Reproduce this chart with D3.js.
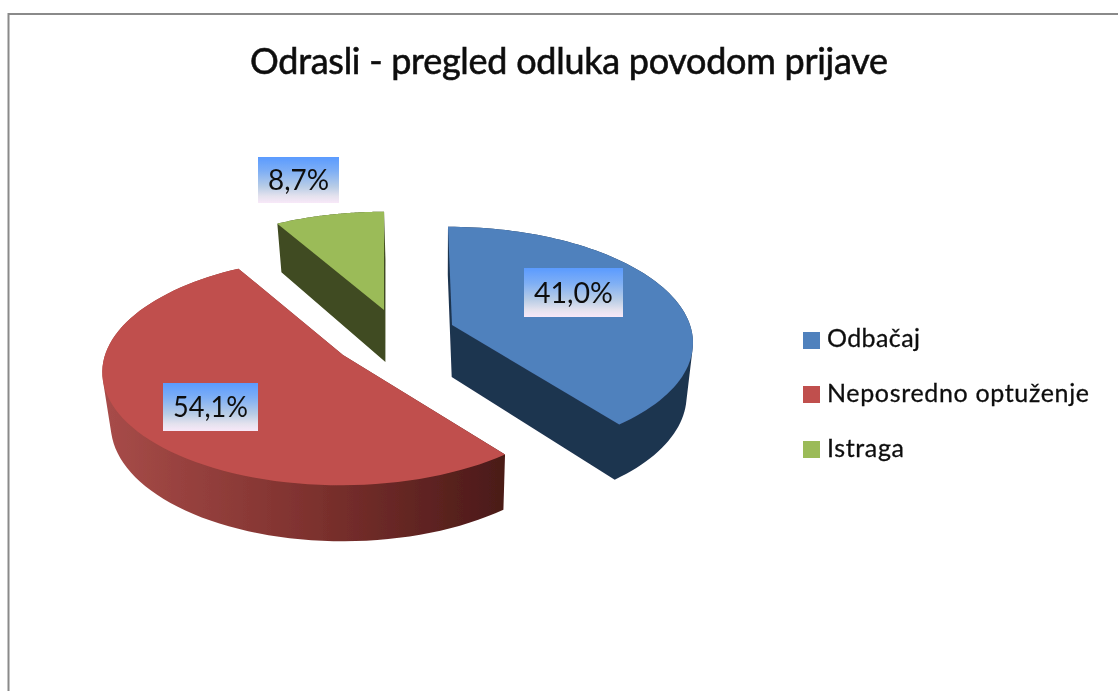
<!DOCTYPE html>
<html><head><meta charset="utf-8">
<script src="https://cdn.jsdelivr.net/npm/d3@7"></script>
<style>html,body{margin:0;padding:0;background:#fff}svg{display:block}text{font-family:Lato,"Noto Sans",sans-serif;fill:#111}</style>
</head><body>
<svg id="c" width="1118" height="691"></svg>
<script>
const categories = ["Odbačaj", "Neposredno optuženje", "Istraga"];
const values = [41.0, 54.1, 8.7];
const valueLabels = ["41,0%", "54,1%", "8,7%"];
const titleText = "Odrasli - pregled odluka povodom prijave";
const topColors = ["#4f81bd", "#c0504d", "#9bbb59"];
const wallColors = ["#1f3450", "url(#redWall)", "#404b21"];

// layout only
const centers = [[452, 325], [343, 355], [384, 310]];
const labelBoxes = [[524, 268, 99, 49], [163, 383, 95, 48], [258, 157, 81, 46]];
const legendRows = [[332, 347], [386, 402], [441, 457]];
const legendWidths = [93, 262, 77];
const R = 238, Ry = 112, persp = 0.14, vanishX = 385, lean = 0.06, bottomShrink = 0.975, bottomAnchor = 440;

const svg = d3.select("#c");
const defs = svg.append("defs");
const blur = defs.append("filter").attr("id", "soft").attr("x", "-5%").attr("y", "-5%").attr("width", "110%").attr("height", "110%");
blur.append("feGaussianBlur").attr("stdDeviation", 0.6);
const g1 = defs.append("linearGradient").attr("id", "redWall").attr("gradientUnits", "userSpaceOnUse")
  .attr("x1", 102).attr("x2", 506).attr("y1", 0).attr("y2", 0);
[[0, "#a84c49"], [0.5, "#7f322f"], [1, "#4a1a18"]].forEach(s => g1.append("stop").attr("offset", s[0]).attr("stop-color", s[1]));
const g2 = defs.append("linearGradient").attr("id", "lab").attr("x1", 0).attr("x2", 0).attr("y1", 0).attr("y2", 1);
[[0, "#5b9bff"], [0.3, "#7daef5"], [0.65, "#b9cde6"], [0.85, "#e4e2ee"], [1, "#f8e8f8"]].forEach(s => g2.append("stop").attr("offset", s[0]).attr("stop-color", s[1]));

// frame
svg.append("path").attr("d", "M8.5,691V14H1118").attr("fill", "none").attr("stroke", "#8a8a8a").attr("stroke-width", 2);

const pie = d3.pie().sort(null).value(d => d);
const arcs = pie(values);

function project(c, theta, radius, down) {
  const u = Math.sin(theta) * radius, v = -Math.cos(theta) * radius;
  const s = 1 / (1 - persp * v);
  let x = c[0] + R * u * s + lean * (c[0] - vanishX) * v;
  if (down) x = bottomAnchor + (x - bottomAnchor) * bottomShrink;
  const y = c[1] + Ry * v * s + (down ? 52 + 4 * v : 0);
  return [x, y];
}
function outline(a, c, down) {
  const n = 80;
  const thetas = d3.range(n + 1).map(i => a.startAngle + (a.endAngle - a.startAngle) * i / n);
  return [project(c, 0, 0, down)].concat(thetas.map(t => project(c, t, 1, down)));
}
const line = d3.line();
const order = [2, 0, 1];
const slices = svg.append("g").attr("filter", "url(#soft)");
order.forEach(i => {
  const a = arcs[i], c = centers[i];
  const top = outline(a, c, false), bot = outline(a, c, true);
  let wall = [bot];
  top.forEach((p, j) => {
    const nx = (j + 1) % top.length;
    wall.push([p, top[nx], bot[nx], bot[j]]);
  });
  const d = wall.map(poly => {
    const q = d3.polygonArea(poly) < 0 ? poly.slice().reverse() : poly;
    return line(q) + "Z";
  }).join("");
  slices.append("path").attr("d", d).attr("fill", wallColors[i]);
  slices.append("path").attr("d", line(top) + "Z").attr("fill", topColors[i]);
});

// data labels
const labG = svg.append("g").attr("filter", "url(#soft)");
labelBoxes.forEach((b, i) => {
  labG.append("rect").attr("x", b[0]).attr("y", b[1]).attr("width", b[2]).attr("height", b[3]).attr("fill", "url(#lab)");
  labG.append("text").attr("x", b[0] + b[2] / 2).attr("y", b[1] + b[3] / 2 + 10).attr("text-anchor", "middle")
    .attr("font-size", 29).attr("textLength", b[2] - 20).attr("lengthAdjust", "spacingAndGlyphs").text(valueLabels[i]);
});

// title
const txt = svg.append("g").attr("filter", "url(#soft)");
txt.append("text").attr("x", 250).attr("y", 74).attr("font-size", 36).attr("stroke", "#111").attr("stroke-width", 0.6)
  .attr("textLength", 638).attr("lengthAdjust", "spacing").text(titleText);

// legend
categories.forEach((name, i) => {
  txt.append("rect").attr("x", 803).attr("y", legendRows[i][0]).attr("width", 17).attr("height", 17).attr("fill", topColors[i]);
  txt.append("text").attr("x", 827).attr("y", legendRows[i][1]).attr("font-size", 25).attr("stroke", "#111").attr("stroke-width", 0.3)
    .attr("textLength", legendWidths[i]).attr("lengthAdjust", "spacing").text(name);
});
</script>
</body></html>
